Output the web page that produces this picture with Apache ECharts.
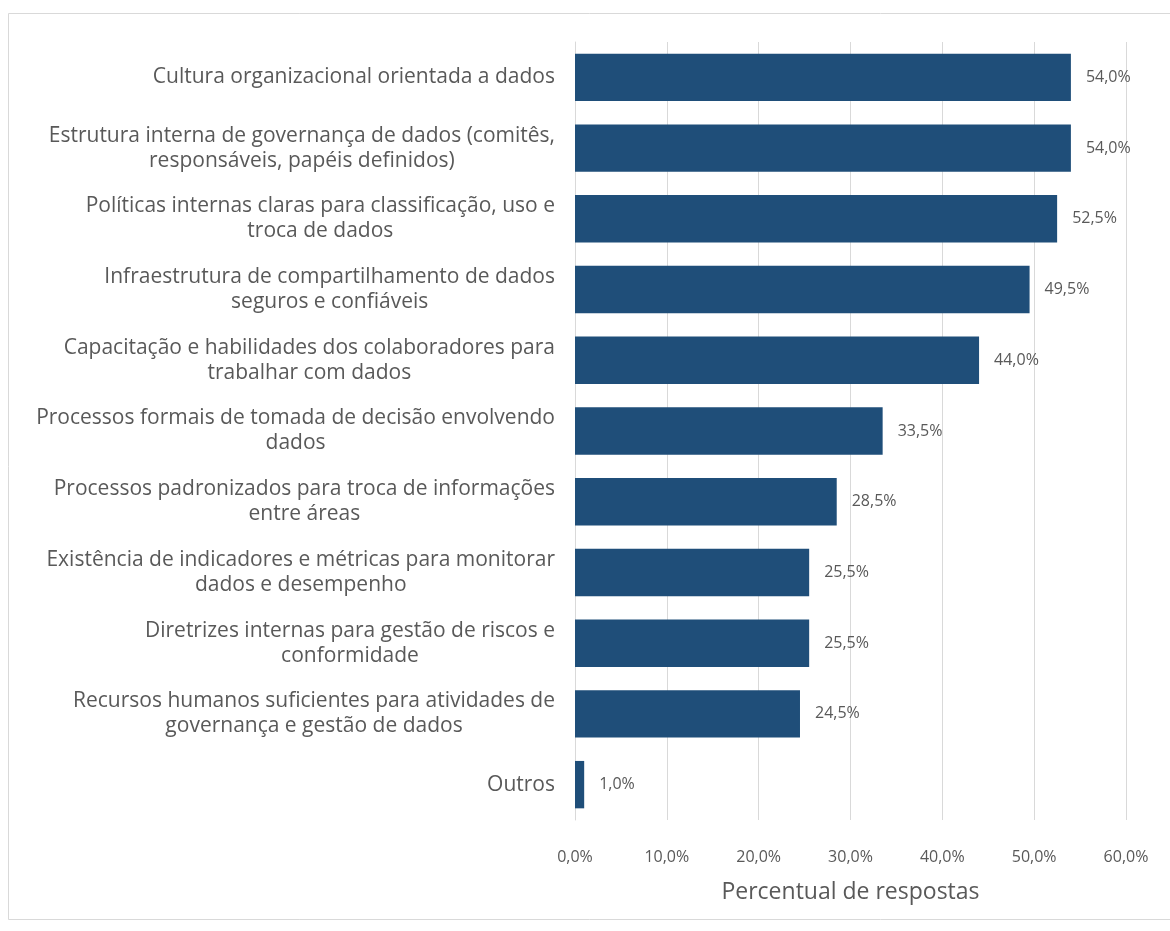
<!DOCTYPE html>
<html>
<head>
<meta charset="utf-8">
<script src="https://cdn.jsdelivr.net/npm/echarts@6/dist/echarts.min.js"></script>
<style>
  html, body { margin: 0; padding: 0; background: #ffffff; }
  #chart { width: 1170px; height: 931px; }
</style>
</head>
<body>
<div id="chart"></div>
<script>
// Governance factors, top to bottom, with line breaks as wrapped on the axis
const categories = [
  'Cultura organizacional orientada a dados',
  'Estrutura interna de governança de dados (comitês,\nresponsáveis, papéis definidos)',
  'Políticas internas claras para classificação, uso e\ntroca de dados',
  'Infraestrutura de compartilhamento de dados\nseguros e confiáveis',
  'Capacitação e habilidades dos colaboradores para\ntrabalhar com dados',
  'Processos formais de tomada de decisão envolvendo\ndados',
  'Processos padronizados para troca de informações\nentre áreas',
  'Existência de indicadores e métricas para monitorar\ndados e desempenho',
  'Diretrizes internas para gestão de riscos e\nconformidade',
  'Recursos humanos suficientes para atividades de\ngovernança e gestão de dados',
  'Outros'
];

// Share of responses (%)
const percentValues = [54.0, 54.0, 52.5, 49.5, 44.0, 33.5, 28.5, 25.5, 25.5, 24.5, 1.0];

// Value axis ticks (%)
const tickValues = [0, 10, 20, 30, 40, 50, 60];

const axisTitle = 'Percentual de respostas';

const fmtPct = v => v.toFixed(1).replace('.', ',') + '%';

const chart = echarts.init(document.getElementById('chart'), null, { renderer: 'canvas' });

const textColor = '#595959';
const fontFamily = '"Open Sans", "Noto Sans", sans-serif';

chart.setOption({
  animation: false,
  backgroundColor: '#ffffff',
  graphic: [{
    type: 'rect',
    shape: { x: 8.5, y: 13.5, width: 1175, height: 906 },
    style: { fill: 'none', stroke: '#d9d9d9', lineWidth: 1 },
    silent: true,
    z: -1
  }],
  grid: { left: 575, right: 44, top: 42, bottom: 111, containLabel: false },
  xAxis: {
    type: 'value',
    min: tickValues[0],
    max: tickValues[tickValues.length - 1],
    interval: tickValues[1] - tickValues[0],
    axisLine: { show: false },
    axisTick: { show: false },
    splitLine: { show: true, lineStyle: { color: '#d9d9d9', width: 1 } },
    axisLabel: {
      formatter: v => fmtPct(v),
      color: textColor,
      fontSize: 16,
      fontFamily: fontFamily,
      margin: 29
    },
    name: axisTitle,
    nameLocation: 'middle',
    nameGap: 61,
    nameTextStyle: { color: textColor, fontSize: 23, fontFamily: fontFamily }
  },
  yAxis: {
    type: 'category',
    data: categories,
    inverse: true,
    axisLine: { show: true, lineStyle: { color: '#d9d9d9', width: 1 } },
    axisTick: { show: false },
    axisLabel: {
      color: textColor,
      fontSize: 21,
      fontFamily: fontFamily,
      margin: 20,
      align: 'right',
      lineHeight: 25,
      formatter: v => v.split('\n').map(l => '{c|' + l + '}').join('\n'),
      rich: {
        c: { align: 'center', color: textColor, fontSize: 21, fontFamily: fontFamily, lineHeight: 25 }
      }
    }
  },
  series: [{
    type: 'bar',
    data: percentValues,
    barCategoryGap: '33%',
    itemStyle: { color: '#1f4e79' },
    label: {
      show: true,
      position: 'right',
      distance: 15,
      formatter: p => fmtPct(p.value),
      color: textColor,
      fontSize: 16,
      fontFamily: fontFamily
    }
  }]
});
</script>
</body>
</html>
